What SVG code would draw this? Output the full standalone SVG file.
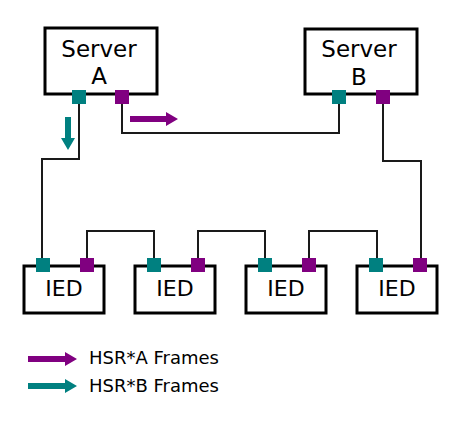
<svg xmlns="http://www.w3.org/2000/svg" width="474" height="423" viewBox="0 0 474 423">
<style>
.box{fill:#fff;stroke:#000;stroke-width:3}
.t{font-family:"DejaVu Sans",Verdana,sans-serif;fill:#000;text-anchor:middle}
.srv{font-size:23px}
.ied{font-size:22px}
.leg{font-family:"DejaVu Sans",Verdana,sans-serif;font-size:18px;fill:#000}
.ta{fill:#008080}
.pa{fill:#800080}
.wire{fill:none;stroke:#1a1a1a;stroke-width:2}
</style>
<rect width="474" height="423" fill="#fff"/>
<g id="connectors">
<path class="wire" d="M79,104 V159 H42 V258"/>
<path class="wire" d="M122,104 V133 H339 V104"/>
<path class="wire" d="M383,104 V161 H421 V258"/>
<path class="wire" d="M87,258 V231 H154 V258"/>
<path class="wire" d="M198,258 V231 H265 V258"/>
<path class="wire" d="M309,258 V231 H377 V258"/>
</g>
<g id="serverA">
<rect class="box" x="45" y="28" width="112" height="66"/>
<text class="t srv" x="99" y="57">Server</text>
<text class="t srv" x="99" y="84">A</text>
<rect class="ta" x="72" y="90" width="14" height="14"/>
<rect class="pa" x="115" y="90" width="14" height="14"/>
</g>
<g id="serverB">
<rect class="box" x="305" y="29" width="112" height="65"/>
<text class="t srv" x="359" y="57">Server</text>
<text class="t srv" x="359" y="85">B</text>
<rect class="ta" x="332" y="90" width="14" height="14"/>
<rect class="pa" x="376" y="90" width="14" height="14"/>
</g>
<g id="ied1">
<rect class="box" x="24" y="266" width="80" height="47"/>
<text class="t ied" x="64" y="296">IED</text>
<rect class="ta" x="36" y="258" width="14" height="14"/>
<rect class="pa" x="80" y="258" width="14" height="14"/>
</g>
<g id="ied2">
<rect class="box" x="135" y="266" width="80" height="47"/>
<text class="t ied" x="175" y="296">IED</text>
<rect class="ta" x="147" y="258" width="14" height="14"/>
<rect class="pa" x="191" y="258" width="14" height="14"/>
</g>
<g id="ied3">
<rect class="box" x="246" y="266" width="80" height="47"/>
<text class="t ied" x="286" y="296">IED</text>
<rect class="ta" x="258" y="258" width="14" height="14"/>
<rect class="pa" x="302" y="258" width="14" height="14"/>
</g>
<g id="ied4">
<rect class="box" x="357" y="266" width="80" height="47"/>
<text class="t ied" x="397" y="296">IED</text>
<rect class="ta" x="369" y="258" width="14" height="14"/>
<rect class="pa" x="413" y="258" width="14" height="14"/>
</g>
<g id="flow-arrows">
<path class="ta" d="M65,117 H71 V138 H75 L68,150 L61,138 H65 Z"/>
<path class="pa" d="M130,116 H166 V112 L178,119 L166,126 V122 H130 Z"/>
</g>
<g id="legend">
<path class="pa" d="M28,356 H65 V352 L77,359 L65,366 V362 H28 Z"/>
<text class="leg" x="89" y="364">HSR*A Frames</text>
<path class="ta" d="M28,383 H65 V379 L77,386 L65,393 V389 H28 Z"/>
<text class="leg" x="89" y="392">HSR*B Frames</text>
</g>
</svg>
